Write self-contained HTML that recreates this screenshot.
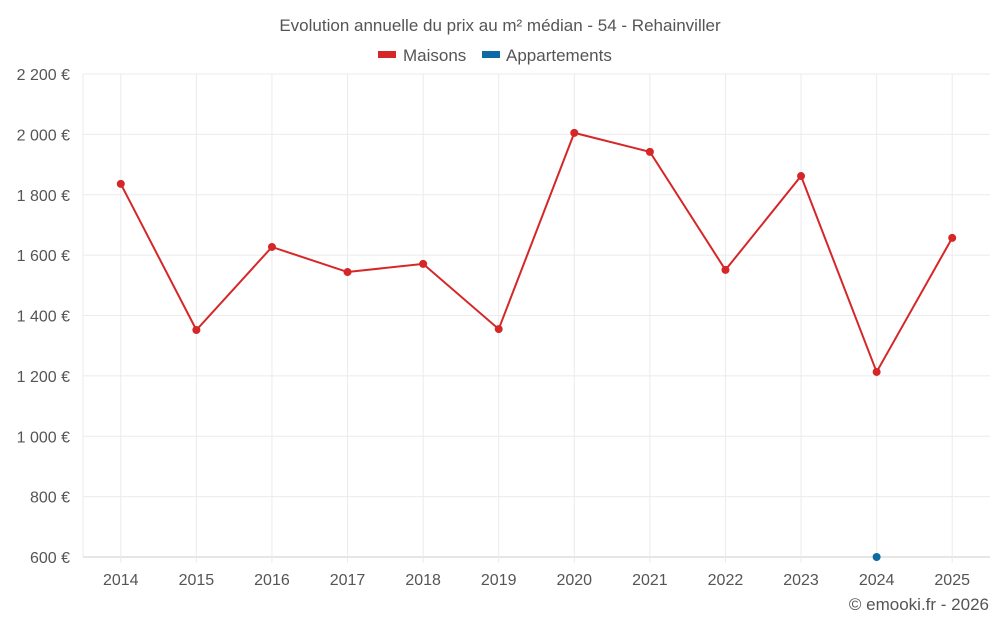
<!DOCTYPE html>
<html><head><meta charset="utf-8"><style>
body{margin:0;background:#fff;font-family:"Liberation Sans",sans-serif;}
svg text{font-family:"Liberation Sans",sans-serif;fill:#555;}
</style></head><body>
<svg id="chart" width="1000" height="625">
<text x="500" y="31" text-anchor="middle" font-size="17">Evolution annuelle du prix au m² médian - 54 - Rehainviller</text>
<g>
<rect x="378" y="51" width="18" height="7" fill="#d62728"/>
<text x="403" y="61" font-size="17">Maisons</text>
<rect x="482" y="51" width="18" height="7" fill="#0e6aa5"/>
<text x="506" y="61" font-size="17">Appartements</text>
</g>
<g id="grid"></g><g id="axes"></g><g id="series"></g>
<text x="989" y="610" text-anchor="end" font-size="17">© emooki.fr - 2026</text>
</svg>
<script>
const categories=["2014","2015","2016","2017","2018","2019","2020","2021","2022","2023","2024","2025"];
const maisons=[1836,1352,1627,1544,1571,1355,2005,1942,1551,1862,1213,1657];
const appartements=[null,null,null,null,null,null,null,null,null,null,600,null];
const yTicks=[600,800,1000,1200,1400,1600,1800,2000,2200];
const yLabels=["600 €","800 €","1 000 €","1 200 €","1 400 €","1 600 €","1 800 €","2 000 €","2 200 €"];
const L=83,R=990,T=74,B=557,yMin=600,yMax=2200;
const NS="http://www.w3.org/2000/svg";
const bw=(R-L)/categories.length;
const x=i=>L+bw*(i+0.5);
const y=v=>B-(v-yMin)/(yMax-yMin)*(B-T);
function mk(tag,attrs,parent){const e=document.createElementNS(NS,tag);for(const k in attrs)e.setAttribute(k,attrs[k]);document.getElementById(parent).appendChild(e);return e;}
const lg=mk("line",{x1:L,x2:L,y1:T,y2:B,stroke:"#ebebeb"},"grid");


yTicks.forEach((t,i)=>{
 const g=mk("line",{x1:L,x2:R,y1:y(t),y2:y(t),stroke:i==0?"#ccc":"#ebebeb"},"grid");
 
 
 const tx=mk("text",{x:70,y:y(t)+6,"text-anchor":"end","font-size":"16"},"axes");
 tx.textContent=yLabels[i];
 
 
});
categories.forEach((c,i)=>{
 const g=mk("line",{x1:x(i),x2:x(i),y1:T,y2:B+6,stroke:"#ebebeb"},"grid");
 
 
 const tx=mk("text",{x:x(i),y:585,"text-anchor":"middle","font-size":"16"},"axes");
 tx.textContent=c;
 
 
});
const pts=maisons.map((v,i)=>v==null?null:x(i)+","+y(v)).filter(p=>p).join(" ");
const pl=mk("polyline",{points:pts,fill:"none",stroke:"#d62728","stroke-width":2},"series");


maisons.forEach((v,i)=>{if(v==null)return;
 const c=mk("circle",{cx:x(i),cy:y(v),r:4,fill:"#d62728"},"series");
 
 
});
appartements.forEach((v,i)=>{if(v==null)return;
 const c=mk("circle",{cx:x(i),cy:y(v),r:4,fill:"#0e6aa5"},"series");
 
 
});
</script>
</body></html>
